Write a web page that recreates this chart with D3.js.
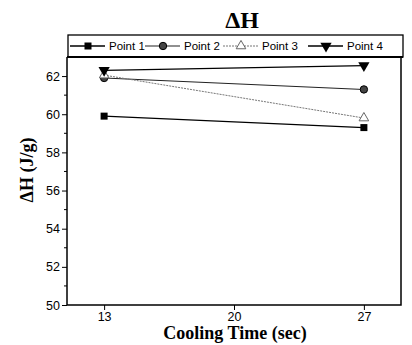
<!DOCTYPE html>
<html>
<head>
<meta charset="utf-8">
<script src="https://cdn.jsdelivr.net/npm/d3@7"></script>
<style>
  body { margin: 0; background: white; }
</style>
</head>
<body>
<svg id="chart" width="412" height="345"></svg>
<script>
// data
var coolingTimes = [13, 27];
var point1 = [59.9, 59.3];
var point2 = [61.9, 61.3];
var point3 = [62.05, 59.8];
var point4 = [62.3, 62.55];
var seriesNames = ['Point 1', 'Point 2', 'Point 3', 'Point 4'];
var xTicks = [13, 20, 27];
var yTicks = [50, 52, 54, 56, 58, 60, 62];

var svg = d3.select('#chart');
var plotLeft = 67, plotRight = 401, plotTop = 57, plotBottom = 305;

var x = d3.scaleLinear().domain([11, 29]).range([plotLeft, plotRight]);
var y = d3.scaleLinear().domain([50, 63]).range([plotBottom, plotTop]);

// title
svg.append('text').text('\u0394H')
  .attr('x', 242).attr('y', 28)
  .attr('font-family', 'Liberation Serif, Times New Roman, serif')
  .attr('font-weight', 'bold').attr('font-size', '24px')
  .attr('text-anchor', 'middle');

// frame (left, bottom, right)
svg.append('path')
  .attr('d', 'M' + plotLeft + ',' + plotTop + 'V' + plotBottom + 'H' + plotRight + 'V' + plotTop)
  .attr('fill', 'none').attr('stroke', 'black').attr('stroke-width', 1.5);

// axes
var xAxis = svg.append('g').attr('transform', 'translate(0,' + plotBottom + ')')
  .call(d3.axisBottom(x).tickValues(xTicks).tickSize(5).tickPadding(2));
var yAxis = svg.append('g').attr('transform', 'translate(' + plotLeft + ',0)')
  .call(d3.axisLeft(y).tickValues(yTicks).tickSize(5).tickPadding(2));
for (var ax of [xAxis, yAxis]) {
  ax.select('.domain').remove();
  ax.selectAll('text').attr('font-family', 'Liberation Sans, Arial, sans-serif')
    .attr('font-size', '12.5px').attr('fill', 'black');
  ax.selectAll('line').attr('stroke', 'black');
}
// minor ticks
svg.append('g').selectAll('line')
  .data([51, 53, 55, 57, 59, 61]).enter().append('line')
  .attr('x1', plotLeft - 3).attr('x2', plotLeft)
  .attr('y1', d => y(d)).attr('y2', d => y(d))
  .attr('stroke', 'black');

// axis titles
svg.append('text').text('\u0394H (J/g)')
  .attr('transform', 'translate(33,' + 170 + ') rotate(-90)')
  .attr('font-family', 'Liberation Serif, Times New Roman, serif')
  .attr('font-weight', 'bold').attr('font-size', '18px')
  .attr('text-anchor', 'middle');
svg.append('text').text('Cooling Time (sec)')
  .attr('x', 235).attr('y', 339)
  .attr('font-family', 'Liberation Serif, Times New Roman, serif')
  .attr('font-weight', 'bold').attr('font-size', '18px')
  .attr('text-anchor', 'middle');

// series styling
var styles = [
  { values: point1, stroke: '#000', width: 1.3, dash: null, marker: 'square', fill: '#000' },
  { values: point2, stroke: '#222', width: 1.1, dash: null, marker: 'circle', fill: '#444' },
  { values: point3, stroke: '#777', width: 1, dash: '2,1', marker: 'triangleUp', fill: 'white' },
  { values: point4, stroke: '#000', width: 1.3, dash: null, marker: 'triangleDown', fill: '#000' }
];

function drawMarker(g, type, cx, cy, s) {
  if (type == 'square') {
    g.append('rect').attr('x', cx - 3.5).attr('y', cy - 3.5).attr('width', 7).attr('height', 7)
      .attr('fill', s.fill);
  } else if (type == 'circle') {
    g.append('circle').attr('cx', cx).attr('cy', cy).attr('r', 3.7)
      .attr('fill', s.fill).attr('stroke', '#000').attr('stroke-width', 1);
  } else if (type == 'triangleUp') {
    g.append('path').attr('d', d3.symbol(d3.symbolTriangle, 40)())
      .attr('transform', 'translate(' + cx + ',' + cy + ')')
      .attr('fill', 'white').attr('stroke', '#666').attr('stroke-width', 1);
  } else {
    g.append('path').attr('d', d3.symbol(d3.symbolTriangle, 55)())
      .attr('transform', 'translate(' + cx + ',' + cy + ') rotate(180)')
      .attr('fill', s.fill);
  }
}

var line = d3.line().x((d, i) => x(coolingTimes[i])).y(d => y(d));
var plot = svg.append('g');
styles.forEach(function(s) {
  plot.append('path').datum(s.values).attr('d', line)
    .attr('fill', 'none').attr('stroke', s.stroke).attr('stroke-width', s.width)
    .attr('stroke-dasharray', s.dash);
});
styles.forEach(function(s) {
  s.values.forEach(function(v, i) {
    drawMarker(plot, s.marker, x(coolingTimes[i]), y(v), s);
  });
});

// legend box
svg.append('rect').attr('x', 68).attr('y', 35).attr('width', 335).attr('height', 22)
  .attr('fill', 'white').attr('stroke', 'black').attr('stroke-width', 1.3);
svg.append('line').attr('x1', 67).attr('x2', 403).attr('y1', 57).attr('y2', 57)
  .attr('stroke', 'black').attr('stroke-width', 2);

var legendX = [70, 145, 223, 308];
var legend = svg.append('g');
styles.forEach(function(s, i) {
  var x0 = legendX[i], ly = 46;
  legend.append('line').attr('x1', x0).attr('x2', x0 + 35).attr('y1', ly).attr('y2', ly)
    .attr('stroke', s.stroke).attr('stroke-width', s.width).attr('stroke-dasharray', s.dash);
  drawMarker(legend, s.marker, x0 + 18, ly, s);
  legend.append('text').text(seriesNames[i])
    .attr('x', x0 + 39).attr('y', ly + 4)
    .attr('font-family', 'Liberation Sans, Arial, sans-serif').attr('font-size', '11.5px');
});
</script>
</body>
</html>
